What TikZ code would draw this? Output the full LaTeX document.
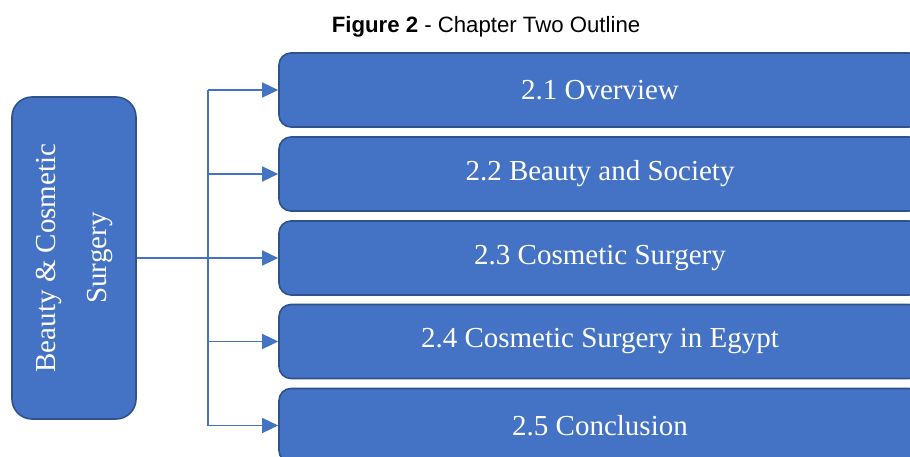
\documentclass[tikz,border=0pt]{standalone}
\usepackage{fontspec}
\setmainfont{Liberation Serif}
\newfontfamily\captionfont{Liberation Sans}
\usetikzlibrary{arrows.meta}
\definecolor{boxfill}{HTML}{4472C4}
\definecolor{boxedge}{HTML}{2F528F}
\begin{document}
\begin{tikzpicture}[x=1pt,y=-1pt,
  rbox/.style={draw=boxedge, line width=1.6pt, fill=boxfill, rounded corners=12pt,
    text=white, font=\fontsize{29}{34}\selectfont, minimum width=642pt, minimum height=74pt,
    inner sep=0pt},
  link/.style={draw=boxfill, line width=1.4pt},
  arr/.style={link, -{Triangle[length=16pt,width=15pt]}}]
\useasboundingbox (0,0) rectangle (910,457);
\clip (0,0) rectangle (910,457);
% caption
\node[font=\captionfont\fontsize{22.2}{26}\selectfont, anchor=center] (cap) at (486,27)
  {\textbf{Figure 2} - Chapter Two Outline};
% topic box
\node[draw=boxedge, line width=1.6pt, fill=boxfill, rounded corners=20pt,
  minimum width=124pt, minimum height=322pt, inner sep=0pt] (L) at (74,258) {};
\node[rotate=90, text=white, align=center, font=\fontsize{29}{51}\selectfont]
  (Lt) at (L.center) {Beauty \& Cosmetic\\Surgery};
% section boxes
\node[rbox] (B1) at (600,90) {2.1 Overview};
\node[rbox] (B2) at (600,174) {2.2 Beauty and Society};
\node[rbox] (B3) at (600,258) {2.3 Cosmetic Surgery};
\node[rbox] (B4) at (600,341.5) {2.4 Cosmetic Surgery in Egypt};
\node[rbox] (B5) at (600,425.5) {2.5 Conclusion};
% connectors
\coordinate (J) at (208,258);
\draw[link] (L.east |- J) -- (J);
\draw[link] (J |- B1.west) -- (J |- B5.west);
\foreach \b in {B1,B2,B3,B4,B5}
  \draw[arr] (J |- \b.west) -- (\b.west);
\end{tikzpicture}
\end{document}
